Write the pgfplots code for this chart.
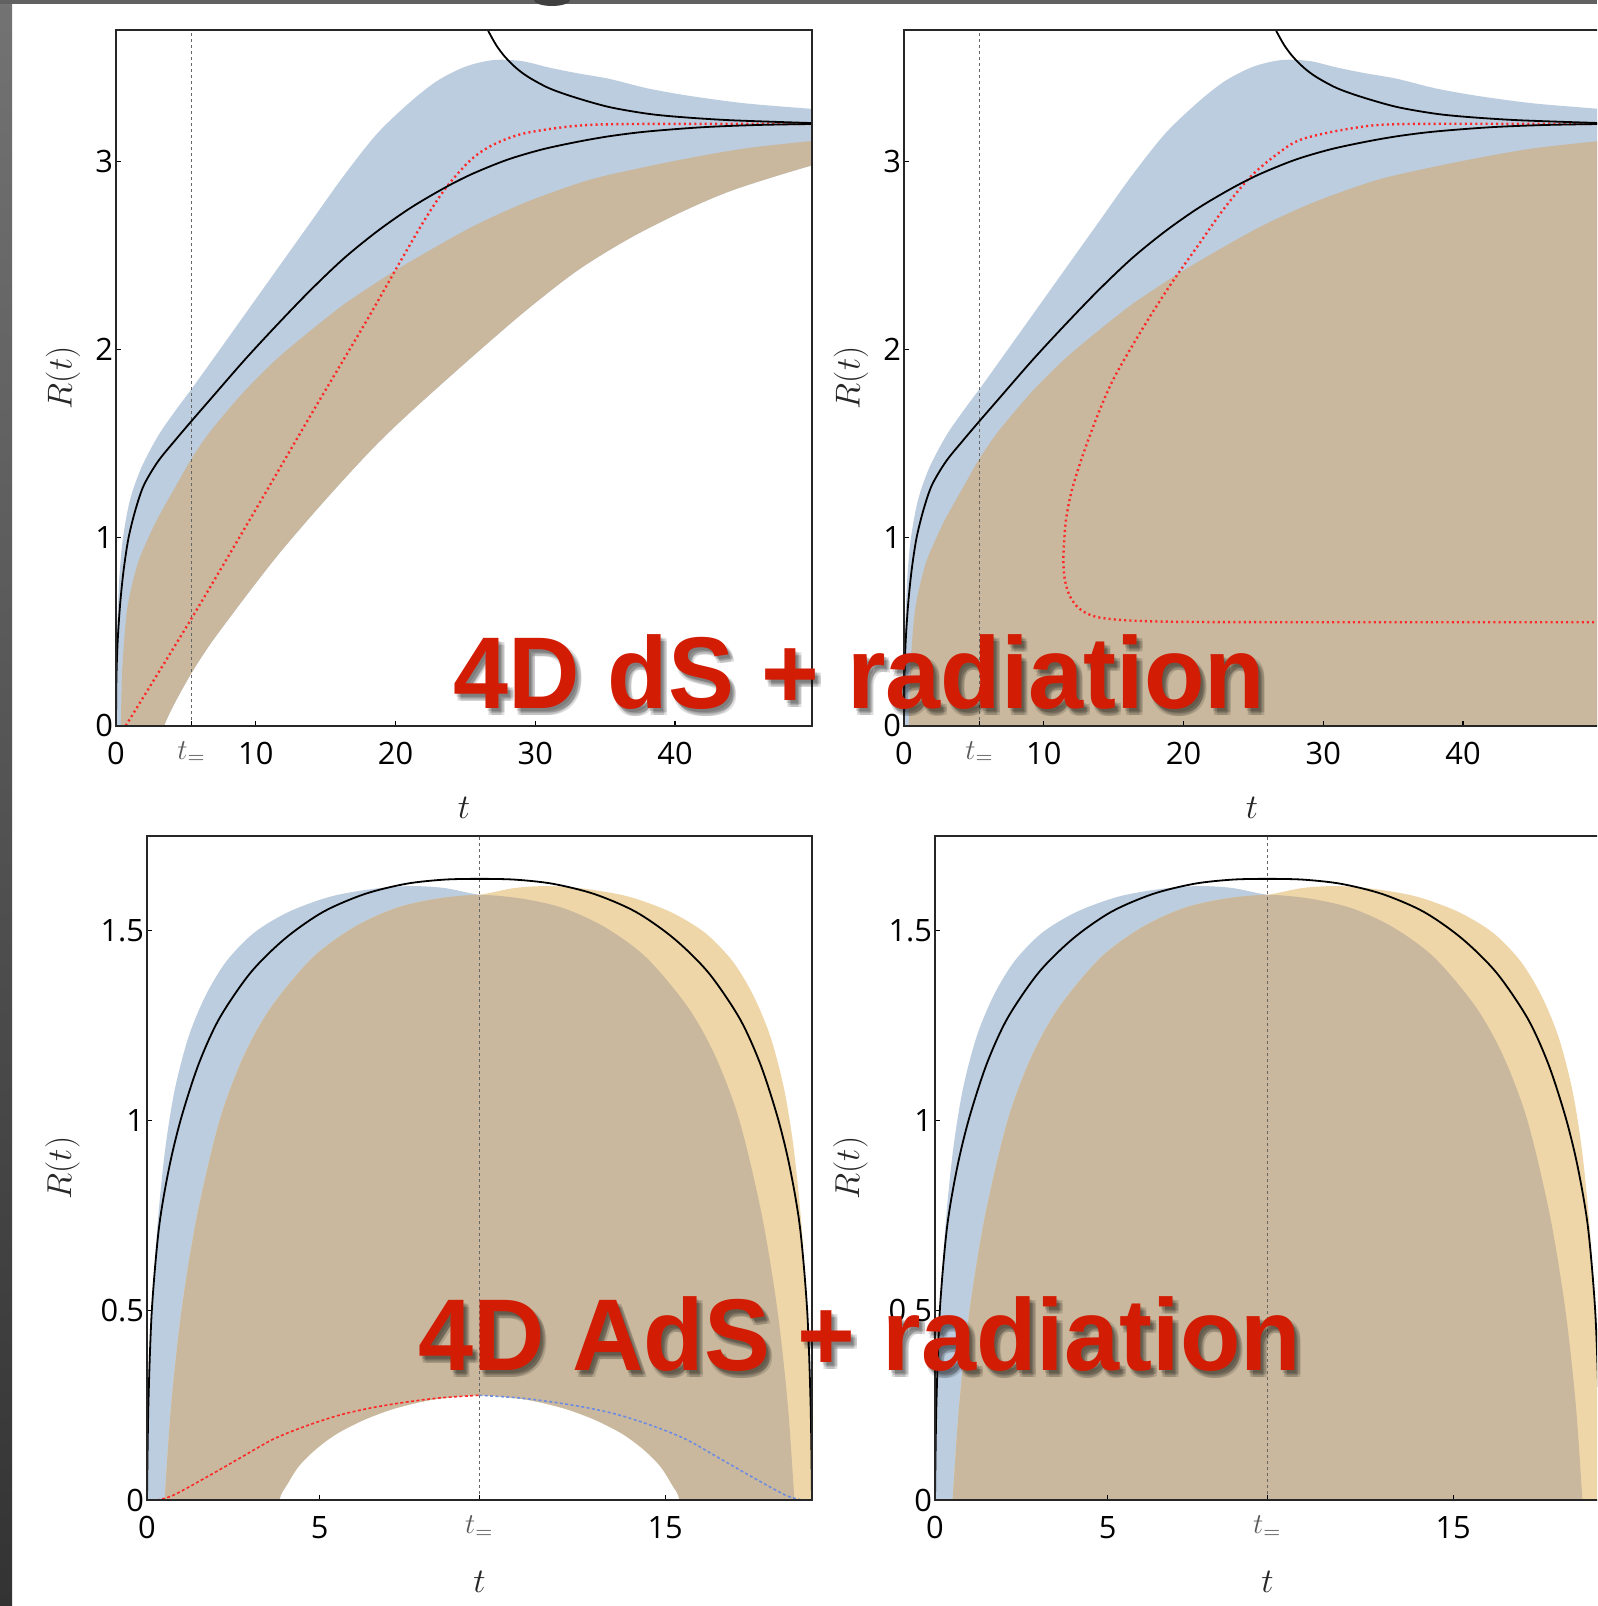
\documentclass[border=0pt]{standalone}
\usepackage{pgfplots}
\pgfplotsset{compat=1.18}
\usepackage{fontspec}
\setmainfont{Liberation Sans}
\newfontfamily\tickfont{Open Sans}
\newfontfamily\bigfont{Liberation Sans}
\definecolor{bfill}{RGB}{188,205,223}
\definecolor{tfill}{RGB}{201,184,157}
\definecolor{ofill}{RGB}{238,214,168}
\definecolor{ovred}{RGB}{210,28,4}
\definecolor{dotred}{RGB}{255,40,40}
\definecolor{dotblue}{RGB}{110,140,225}

\pgfplotsset{
  panel/.style={
    scale only axis, axis on top,
    xmin=0, ymin=0,
    tick pos=left, tick align=inside,
    major tick length=2.5pt,
    every tick/.style={black, line width=0.6pt},
    axis line style={black!85, line width=0.9pt},
    tick label style={font=\tickfont\fontsize{15.4pt}{18pt}\selectfont, black},
    xticklabel style={yshift=-4.5pt},
    yticklabel style={xshift=2pt},
    every axis x label/.style={at={(axis description cs:0.5,0)}, anchor=center, yshift=-41pt, font=\fontsize{16pt}{19pt}\selectfont, text=black!85},
    xlabel={$t$}, ylabel={$R(t)$},
  },
  toppanel/.style={panel, width=348pt, height=347.85pt, xmax=49.8, ymax=3.7,
    xtick={0,5.4,10,20,30,40}, xticklabels={0,{\color{black!65}$t_=$},10,20,30,40},
    ytick={0,1,2,3}, yticklabels={0,1,2,3},
    every axis y label/.style={at={(axis description cs:-0.0762,0.5)}, rotate=90, anchor=center, font=\fontsize{16pt}{19pt}\selectfont, text=black!85},
  },
  botpanel/.style={panel, width=332.5pt, height=332pt, xmax=19.25, ymax=1.75,
    xtick={0,5,9.62,15}, xticklabels={0,5,{\color{black!65}$t_=$},15},
    ytick={0,0.5,1,1.5}, yticklabels={0,0.5,1,1.5},
    every axis y label/.style={at={(axis description cs:-0.127,0.5)}, rotate=90, anchor=center, font=\fontsize{16pt}{19pt}\selectfont, text=black!85},
  },
  tline/.style={black!60, dash pattern=on 1.5pt off 1.5pt, line width=0.7pt},
  blk/.style={black, line width=0.9pt, smooth, tension=0.5},
  rdot/.style={dotred, line width=1.2pt, dash pattern=on 1pt off 1.6pt, smooth, tension=0.5},
  fb/.style={fill=#1, draw=none, smooth, tension=0.5},
}
\newcommand\ovfont{\bigfont\bfseries\fontsize{49.5pt}{55pt}\selectfont}

% ---- shared data ----
\newcommand\topBlueUp{(0,0) (0.03,0.3) (0.1,0.55) (0.25,0.8) (0.5,1.0) (1.0,1.2) (1.8,1.37) (3.0,1.54) (4.2,1.67) (5.4,1.79) (6.8,1.935) (9.2,2.185) (11.5,2.425) (13.9,2.675) (16.3,2.925) (18.7,3.15) (21.1,3.32) (23.0,3.43) (25.0,3.505) (27.0,3.54) (29.0,3.535) (31.0,3.50) (33.0,3.47) (35.3,3.44) (38,3.39) (41,3.35) (45,3.31) (49.8,3.28) (51,3.27)}
\newcommand\topTanUp{(0.35,-0.1) (0.35,0) (0.45,0.3) (0.8,0.62) (1.5,0.85) (2.2,0.98) (3.0,1.105) (4.4,1.29) (5.4,1.42) (6.8,1.57) (9.2,1.78) (11.5,1.95) (13.9,2.10) (16.3,2.24) (18.7,2.36) (21.1,2.47) (25.4,2.65) (29.2,2.78) (32.9,2.88) (35.3,2.93) (40.4,3.01) (45,3.07) (49.8,3.11) (51,3.12)}
\newcommand\topTanLowRev{(51.5,3.0) (49.8,2.98) (44.2,2.85) (40.4,2.73) (36.7,2.59) (33,2.42) (29.2,2.20) (25,1.93) (21.1,1.67) (18.7,1.50) (16.3,1.31) (13.9,1.11) (11.5,0.90) (9.2,0.68) (6.8,0.44) (5.4,0.28) (4.2,0.12) (3.45,0) (3.2,-0.1)}
\newcommand\topBlackLow{(0,0) (0.03,0.25) (0.12,0.45) (0.3,0.65) (0.55,0.83) (0.9,1.0) (1.4,1.15) (2.0,1.28) (3.0,1.405) (4.2,1.515) (5.4,1.62) (6.8,1.74) (9.2,1.945) (11.5,2.13) (13.9,2.315) (16.3,2.485) (18.7,2.63) (21.1,2.755) (23.5,2.86) (25.5,2.935) (28,3.01) (30.5,3.065) (33,3.105) (35.3,3.135) (38,3.16) (42,3.183) (46,3.195) (49.8,3.20) (51,3.20)}
\newcommand\topBlackUp{(26.3,3.75) (26.6,3.70) (27.2,3.62) (27.8,3.56) (28.6,3.50) (29.5,3.45) (31,3.39) (32.9,3.34) (35.3,3.29) (38,3.255) (40.4,3.237) (44,3.22) (49.8,3.205) (51,3.203)}
\newcommand\botBlueUL{(0,0) (0.05,0.25) (0.15,0.5) (0.3,0.72) (0.52,0.92) (0.8,1.08) (1.2,1.22) (1.7,1.33) (2.3,1.42) (3.1,1.495) (4.1,1.55) (5.3,1.59) (6.5,1.61) (7.6,1.618) (8.6,1.613) (9.62,1.595)}
\newcommand\botOrangeUR{(10.65,1.613) (11.65,1.618) (12.75,1.61) (13.95,1.59) (15.15,1.55) (16.15,1.495) (16.95,1.42) (17.55,1.33) (18.05,1.22) (18.45,1.08) (18.73,0.92) (18.95,0.72) (19.1,0.5) (19.2,0.25) (19.25,0) (19.3,-0.1)}
\newcommand\botTanL{(0.45,-0.1) (0.51,0) (0.7,0.25) (1.0,0.5) (1.45,0.75) (2.1,1.0) (2.8,1.17) (3.6,1.30) (4.8,1.43) (6.0,1.51) (7.2,1.56) (8.4,1.585) (9.62,1.595)}
\newcommand\botTanR{(10.85,1.585) (12.05,1.56) (13.25,1.51) (14.45,1.43) (15.65,1.30) (16.45,1.17) (17.15,1.0) (17.8,0.75) (18.25,0.5) (18.55,0.25) (18.74,0) (18.8,-0.1)}
\newcommand\botHoleRev{(15.35,-0.1) (15.41,0) (15.2,0.04) (14.85,0.09) (14.35,0.135) (13.75,0.175) (12.95,0.212) (12.05,0.242) (10.95,0.265) (9.62,0.276) (8.3,0.265) (7.2,0.242) (6.3,0.212) (5.5,0.175) (4.9,0.135) (4.4,0.09) (4.05,0.04) (3.84,0) (3.9,-0.1)}
\newcommand\botBlack{(0,0) (0.04,0.25) (0.14,0.5) (0.35,0.72) (0.65,0.88) (1.0,1.01) (1.5,1.15) (2.1,1.27) (3.0,1.39) (4.0,1.48) (5.1,1.55) (6.3,1.597) (7.5,1.624) (8.6,1.635) (9.62,1.637) (10.65,1.635) (11.75,1.624) (12.95,1.597) (14.15,1.55) (15.25,1.48) (16.25,1.39) (17.15,1.27) (17.75,1.15) (18.25,1.01) (18.6,0.88) (18.9,0.72) (19.11,0.5) (19.21,0.25) (19.25,0)}

\begin{document}
\begin{tikzpicture}
\useasboundingbox (0pt,0pt) rectangle (798.5pt,803pt);
\begin{scope}
\clip (0pt,0pt) rectangle (798.5pt,803pt);
\fill[white] (0pt,0pt) rectangle (798.5pt,803pt);
\shade[top color=black!55, bottom color=black!80] (0pt,0pt) rectangle (6pt,803pt);
\fill[black!62] (0pt,801pt) rectangle (798.5pt,803pt);
\fill[black!75] (276pt,803pt) ellipse (9pt and 3pt);

% ---------------- top left ----------------
\begin{axis}[toppanel, at={(58pt,440.15pt)}, anchor=south west]
\edef\tmp{\noexpand\addplot[fb=bfill] coordinates {\topBlueUp\space\topTanLowRev\space(0,-0.1)} -- cycle;}\tmp
\edef\tmp{\noexpand\addplot[fb=tfill] coordinates {\topTanUp\space\topTanLowRev} -- cycle;}\tmp
\addplot[tline] coordinates {(5.4,0) (5.4,3.7)};
\addplot[rdot] coordinates {(0.7,0) (5.4,0.57) (10,1.15) (14,1.66) (17.9,2.15) (20.2,2.45) (22,2.68) (23.6,2.86) (25.4,3.01) (27,3.09) (29.2,3.15) (32.9,3.19) (37,3.20) (49.8,3.20)};
\edef\tmp{\noexpand\addplot[blk] coordinates {\topBlackLow};}\tmp
\edef\tmp{\noexpand\addplot[blk] coordinates {\topBlackUp};}\tmp
\end{axis}

% ---------------- top right ----------------
\begin{axis}[toppanel, at={(452pt,440.15pt)}, anchor=south west]
\edef\tmp{\noexpand\addplot[fb=bfill] coordinates {\topBlueUp\space(51,-0.2) (-0.5,-0.2)} -- cycle;}\tmp
\edef\tmp{\noexpand\addplot[fb=tfill] coordinates {\topTanUp\space(51,-0.2)} -- cycle;}\tmp
\addplot[tline] coordinates {(5.4,0) (5.4,3.7)};
\addplot[rdot] coordinates {(51,0.55) (49.8,0.55) (30,0.55) (20,0.552) (16,0.56) (14,0.575) (13,0.60) (12.3,0.64) (11.8,0.70) (11.5,0.78) (11.4,0.87) (11.45,0.97) (11.6,1.10) (12.0,1.25) (12.8,1.44) (13.9,1.66) (15.1,1.86) (17.3,2.14) (19.2,2.36) (21.0,2.55) (22.9,2.75) (24.8,2.92) (26.7,3.04) (28.5,3.12) (32.3,3.18) (36,3.20) (49.8,3.20) (51,3.20)};
\edef\tmp{\noexpand\addplot[blk] coordinates {\topBlackLow};}\tmp
\edef\tmp{\noexpand\addplot[blk] coordinates {\topBlackUp};}\tmp
\end{axis}

% ---------------- bottom left ----------------
\begin{axis}[botpanel, at={(73.5pt,53pt)}, anchor=south west]
\edef\tmp{\noexpand\addplot[fb=bfill] coordinates {\botBlueUL\space\botTanR\space\botHoleRev\space(-0.3,-0.1)} -- cycle;}\tmp
\edef\tmp{\noexpand\addplot[fb=ofill] coordinates {\botTanL\space\botOrangeUR\space\botHoleRev} -- cycle;}\tmp
\edef\tmp{\noexpand\addplot[fb=tfill] coordinates {\botTanL\space\botTanR\space\botHoleRev} -- cycle;}\tmp
\addplot[tline] coordinates {(9.62,0) (9.62,1.75)};
\addplot[dotred, line width=0.8pt, dash pattern=on 1.5pt off 1.2pt, smooth, tension=0.5] coordinates {(0.28,0) (0.75,0.012) (1.72,0.06) (2.68,0.11) (3.65,0.16) (4.6,0.195) (5.58,0.224) (6.5,0.243) (7.5,0.258) (8.47,0.269) (9.62,0.276)};
\addplot[dotblue, line width=0.8pt, dash pattern=on 1.5pt off 1.2pt, smooth, tension=0.5] coordinates {(9.62,0.276) (10.78,0.269) (11.75,0.258) (12.75,0.243) (13.67,0.224) (14.65,0.195) (15.6,0.16) (16.57,0.11) (17.53,0.06) (18.5,0.012) (18.97,0)};
\edef\tmp{\noexpand\addplot[blk] coordinates {\botBlack};}\tmp
\end{axis}

% ---------------- bottom right ----------------
\begin{axis}[botpanel, at={(467.5pt,53pt)}, anchor=south west]
\edef\tmp{\noexpand\addplot[fb=bfill] coordinates {\botBlueUL\space\botTanR\space(-0.3,-0.1)} -- cycle;}\tmp
\edef\tmp{\noexpand\addplot[fb=ofill] coordinates {\botTanL\space\botOrangeUR} -- cycle;}\tmp
\edef\tmp{\noexpand\addplot[fb=tfill] coordinates {\botTanL\space\botTanR} -- cycle;}\tmp
\addplot[tline] coordinates {(9.62,0) (9.62,1.75)};
\edef\tmp{\noexpand\addplot[blk] coordinates {\botBlack};}\tmp
\end{axis}

% ---------------- overlay titles ----------------
\foreach \dx/\dy in {1/-1.5, 2/-2.5, 3/-3.5, 1.5/-3.2, 2.8/-1.8}{
    \node[anchor=base, text=black, text opacity=0.13, yscale=1.03, font=\ovfont] at ([xshift=\dx pt, yshift=\dy pt]429.75pt,448.5pt) {4D dS + radiation};
    \node[anchor=base, text=black, text opacity=0.13, yscale=1.03, font=\ovfont] at ([xshift=\dx pt, yshift=\dy pt]429.8pt,117.5pt) {4D AdS + radiation};
}
\node[anchor=base, text=ovred, yscale=1.03, font=\ovfont] at (429.75pt,448.5pt) {4D dS + radiation};
\node[anchor=base, text=ovred, yscale=1.03, font=\ovfont] at (429.8pt,117.5pt) {4D AdS + radiation};
\end{scope}
\end{tikzpicture}
\end{document}
